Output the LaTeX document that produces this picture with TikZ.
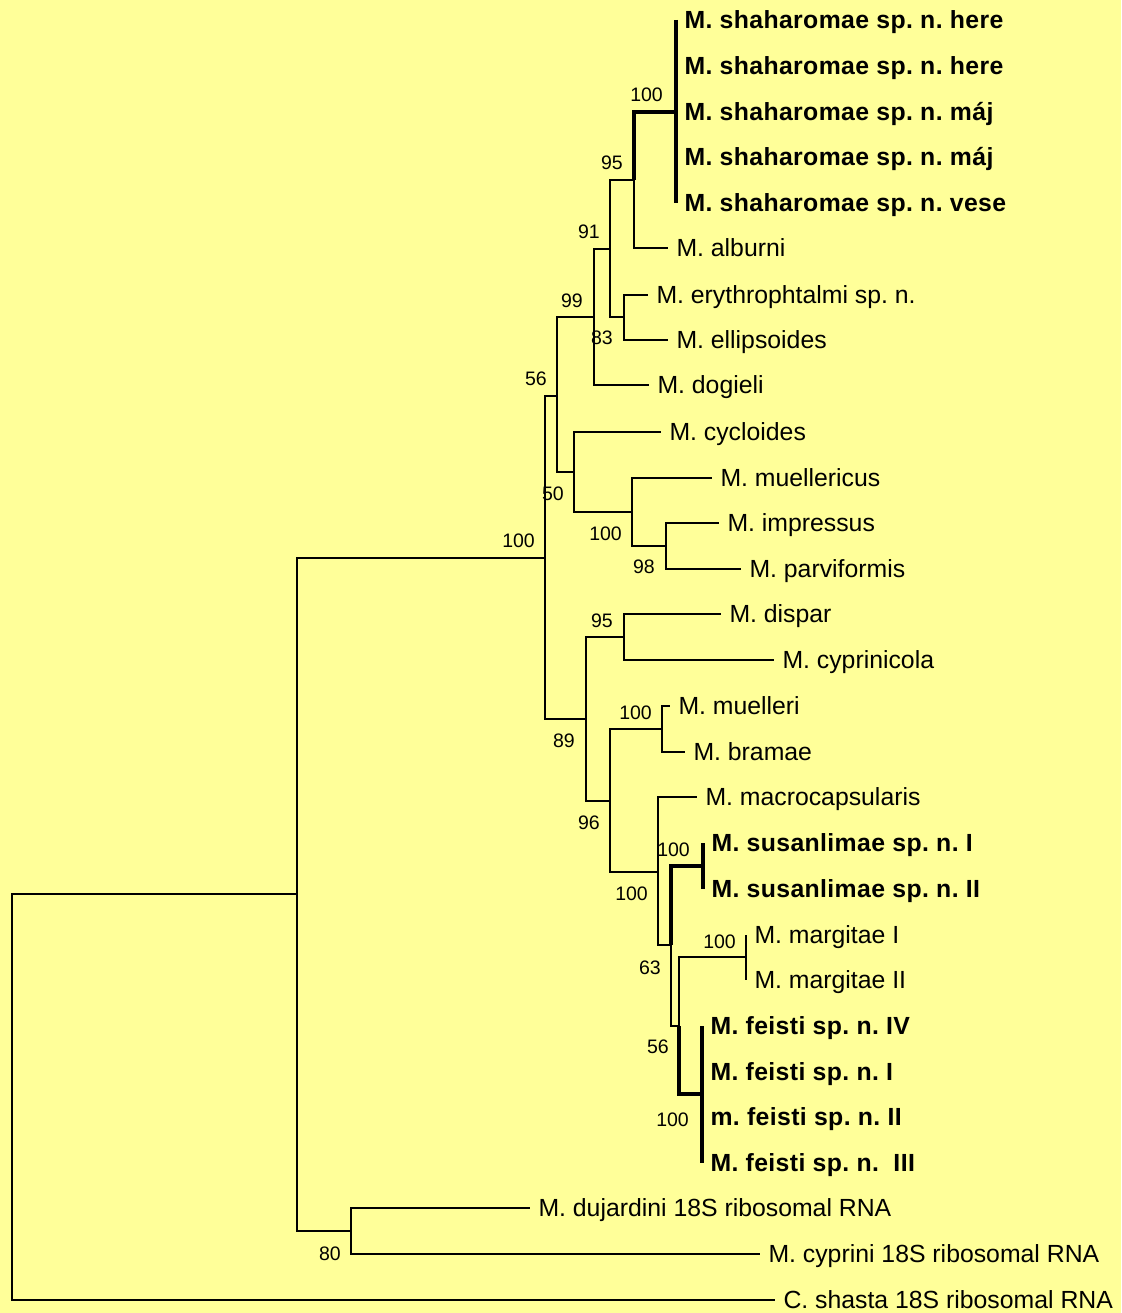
\documentclass[tikz,border=0pt]{standalone}
\usepackage{fontspec}
\setmainfont{Liberation Sans}
\newfontfamily\bsf[LetterSpace=1.5]{Liberation Sans}
\definecolor{bgyellow}{RGB}{255,255,153}
\newcommand\lblfont{\fontsize{24.8}{29}\selectfont}
\newcommand\bootfont{\fontsize{19.5}{23}\selectfont}
\frenchspacing
\tikzset{
  br/.style={line width=1.5pt},
  tk/.style={line width=4pt},
  leaf/.style={anchor=west, inner xsep=8.5pt, inner ysep=0pt, outer sep=0pt,
    text height=17.5pt, text depth=0pt, font=\lblfont},
  bleaf/.style={leaf, font=\lblfont\bsf\bfseries},
  boot/.style={anchor=base east, inner sep=0pt, font=\bootfont}
}
\begin{document}
\begin{tikzpicture}[x=1pt,y=-1pt]
\useasboundingbox (0,0) rectangle (1121,1313);
\fill[bgyellow] (0,0) rectangle (1121,1313);

% leaves
\node[bleaf] (s1) at (676,20) {M. shaharomae sp. n. here};
\node[bleaf] (s2) at (676,66) {M. shaharomae sp. n. here};
\node[bleaf] (s3) at (676,112) {M. shaharomae sp. n. máj};
\node[bleaf] (s4) at (676,157) {M. shaharomae sp. n. máj};
\node[bleaf] (s5) at (676,203) {M. shaharomae sp. n. vese};
\node[leaf] (alb) at (668,248) {M. alburni};
\node[leaf] (ery) at (648,295) {M. erythrophtalmi sp. n.};
\node[leaf] (ell) at (668,340) {M. ellipsoides};
\node[leaf] (dog) at (649,385) {M. dogieli};
\node[leaf] (cyc) at (661,432) {M. cycloides};
\node[leaf] (mlc) at (712,478) {M. muellericus};
\node[leaf] (imp) at (719,523) {M. impressus};
\node[leaf] (par) at (741,569) {M. parviformis};
\node[leaf] (dis) at (721,614) {M. dispar};
\node[leaf] (cpn) at (774,660) {M. cyprinicola};
\node[leaf] (mul) at (670,706) {M. muelleri};
\node[leaf] (bra) at (685,752) {M. bramae};
\node[leaf] (mac) at (697,797) {M. macrocapsularis};
\node[bleaf] (su1) at (703,843) {M. susanlimae sp. n. I};
\node[bleaf] (su2) at (703,889) {M. susanlimae sp. n. II};
\node[leaf] (ma1) at (746,935) {M. margitae I};
\node[leaf] (ma2) at (746,980) {M. margitae II};
\node[bleaf] (f4) at (702,1026) {M. feisti sp. n. IV};
\node[bleaf] (f1) at (702,1072) {M. feisti sp. n. I};
\node[bleaf] (f2) at (702,1117) {m. feisti sp. n. II};
\node[bleaf] (f3) at (702,1163) {M. feisti sp. n.\ \ III};
\node[leaf] (duj) at (530,1208) {M. dujardini 18S ribosomal RNA};
\node[leaf] (cyr) at (760,1254) {M. cyprini 18S ribosomal RNA};
\node[leaf] (sha) at (775,1300) {C. shasta 18S ribosomal RNA};

% internal nodes
\coordinate (S) at (676,112);
\coordinate (n95) at (634,180);
\coordinate (nEE) at (624,317);
\coordinate (n91) at (610,249);
\coordinate (n99) at (594,317);
\coordinate (nMI) at (666,546);
\coordinate (nMu) at (632,512);
\coordinate (n50) at (574,472);
\coordinate (n56) at (557,396);
\coordinate (nDC) at (624,637);
\coordinate (nMB) at (662,729);
\coordinate (nSus) at (703,866);
\coordinate (nMar) at (746,957);
\coordinate (nFei) at (702,1094);
\coordinate (n56b) at (679,1026);
\coordinate (n63) at (671,945);
\coordinate (nBig) at (658,872);
\coordinate (n96) at (610,801);
\coordinate (n89) at (586,719);
\coordinate (nTop) at (545,558);
\coordinate (nDuj) at (351,1231);
\coordinate (nRoot) at (297,894);
\coordinate (nOut) at (12,1097);

% branches
\draw[tk] (s1.west) -- (s5.west);
\draw[tk] (n95) |- (S);
\draw[br] (n95) |- (alb.west);
\draw[br] (nEE) |- (ery.west) (nEE) |- (ell.west);
\draw[br] (n91) |- (n95) (n91) |- (nEE);
\draw[br] (n99) |- (n91) (n99) |- (dog.west);
\draw[br] (nMI) |- (imp.west) (nMI) |- (par.west);
\draw[br] (nMu) |- (mlc.west) (nMu) |- (nMI);
\draw[br] (n50) |- (cyc.west) (n50) |- (nMu);
\draw[br] (n56) |- (n99) (n56) |- (n50);
\draw[br] (nDC) |- (dis.west) (nDC) |- (cpn.west);
\draw[br] (nMB) |- (mul.west) (nMB) |- (bra.west);
\draw[tk] (su1.west) -- (su2.west);
\draw[br] (ma1.west) -- (ma2.west);
\draw[tk] (f4.west) -- (f3.west);
\draw[br] (n56b) |- (nMar);
\draw[tk] (n56b) |- (nFei);
\draw[tk] (n63) |- (nSus);
\draw[br] (n63) |- (n56b);
\draw[br] (nBig) |- (mac.west) (nBig) |- (n63);
\draw[br] (n96) |- (nMB) (n96) |- (nBig);
\draw[br] (n89) |- (nDC) (n89) |- (n96);
\draw[br] (nTop) |- (n56) (nTop) |- (n89);
\draw[br] (nDuj) |- (duj.west) (nDuj) |- (cyr.west);
\draw[br] (nRoot) |- (nTop) (nRoot) |- (nDuj);
\draw[br] (nOut) |- (nRoot) (nOut) |- (sha.west);

% bootstrap values
\node[boot] (b1) at (663,102) {100};
\node[boot] (b2) at (623,170) {95};
\node[boot] (b3) at (600,239) {91};
\node[boot] (b4) at (583,307) {99};
\node[boot] (b5) at (613,344) {83};
\node[boot] (b6) at (547,385) {56};
\node[boot] (b7) at (564,500) {50};
\node[boot] (b8) at (535,547) {100};
\node[boot] (b9) at (622,540) {100};
\node[boot] (b10) at (655,573) {98};
\node[boot] (b11) at (613,627) {95};
\node[boot] (b12) at (575,747) {89};
\node[boot] (b13) at (652,719) {100};
\node[boot] (b14) at (600,829) {96};
\node[boot] (b15) at (690,856) {100};
\node[boot] (b16) at (648,900) {100};
\node[boot] (b17) at (661,974) {63};
\node[boot] (b18) at (736,948) {100};
\node[boot] (b19) at (669,1053) {56};
\node[boot] (b20) at (689,1126) {100};
\node[boot] (b21) at (341,1260) {80};
\end{tikzpicture}
\end{document}
